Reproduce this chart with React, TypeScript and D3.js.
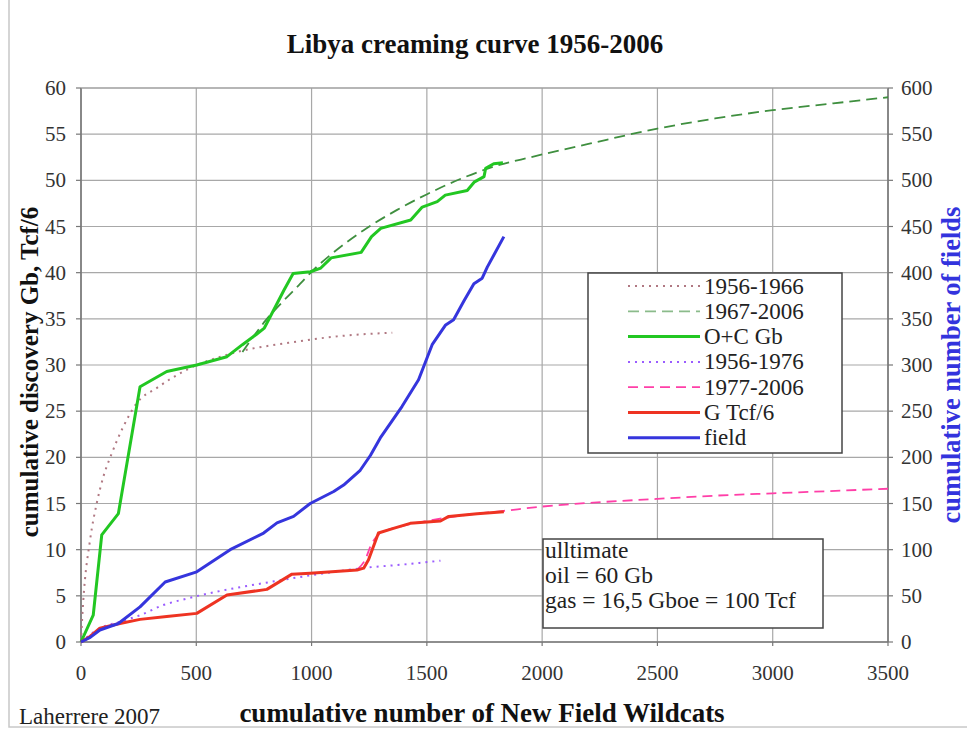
import React from "react";
import * as d3 from "d3";

// Cumulative discovery (Gb) vs cumulative new field wildcats
const oilWells = [0, 53, 90, 162, 256, 372, 502, 633, 700, 760, 795, 820, 880, 920, 995, 1040, 1085, 1215, 1260, 1300, 1430, 1480, 1545, 1580, 1675, 1705, 1748, 1755, 1790, 1830];
const oilGb = [0, 2.9, 11.6, 13.9, 27.65, 29.3, 30.0, 30.9, 32.2, 33.3, 34.0, 35.2, 38.1, 39.9, 40.1, 40.5, 41.6, 42.2, 43.9, 44.8, 45.7, 47.1, 47.7, 48.4, 48.9, 49.8, 50.4, 51.3, 51.8, 51.9];

// Gas discovery (Tcf/6)
const gasWells = [0, 39, 82, 169, 256, 372, 502, 633, 806, 915, 994, 1197, 1226, 1247, 1290, 1355, 1428, 1559, 1595, 1718, 1834];
const gasTcf6 = [0, 0.6, 1.5, 2.0, 2.45, 2.75, 3.1, 5.1, 5.7, 7.35, 7.45, 7.8, 8.0, 8.9, 11.8, 12.3, 12.85, 13.1, 13.6, 13.9, 14.1];

// Cumulative number of fields (right axis)
const fieldWells = [0, 40, 82, 162, 256, 365, 502, 647, 792, 850, 922, 994, 1096, 1139, 1211, 1255, 1298, 1392, 1464, 1523, 1580, 1616, 1660, 1704, 1740, 1762, 1834];
const fieldCount = [0, 5, 13, 20, 38, 65, 76, 100, 118, 129, 136, 150, 163, 170, 186, 202, 221, 255, 284, 322, 343, 349, 369, 388, 394, 406, 439];

// Hyperbolic creaming fits
const fit5666Wells = [0, 5, 10, 39, 68, 97, 133, 183, 241, 328, 444, 676, 900, 1111, 1350];
const fit5666Gb = [0, 2.5, 4.5, 11, 15, 17.9, 20.4, 23.3, 25.85, 27.5, 29.3, 31.4, 32.4, 33.1, 33.5];

const fit6706Wells = [700, 748, 800, 880, 951, 1000, 1081, 1226, 1371, 1501, 1660, 1805, 1950, 2210, 2500, 2750, 3000, 3250, 3500];
const fit6706Gb = [31.4, 33.1, 34.8, 37.0, 38.8, 40.1, 41.9, 44.6, 46.8, 48.5, 50.3, 51.6, 52.5, 54.0, 55.6, 56.7, 57.6, 58.3, 59.0];

const fit5676Wells = [0, 82, 169, 256, 357, 459, 589, 705, 821, 965, 1100, 1211, 1400, 1559];
const fit5676Gas = [0, 1.5, 2.2, 2.9, 4.0, 4.7, 5.45, 6.0, 6.5, 7.1, 7.6, 7.98, 8.4, 8.8];

const fit7706Wells = [1200, 1230, 1260, 1290, 1400, 1500, 1650, 1834, 1993, 2224, 2500, 2750, 3000, 3250, 3500];
const fit7706Gas = [7.9, 8.8, 10.6, 11.6, 12.6, 13.1, 13.7, 14.2, 14.65, 15.1, 15.5, 15.85, 16.1, 16.35, 16.6];

const xTicks = [0, 500, 1000, 1500, 2000, 2500, 3000, 3500];
const yLeftTicks = [0, 5, 10, 15, 20, 25, 30, 35, 40, 45, 50, 55, 60];
const yRightTicks = [0, 50, 100, 150, 200, 250, 300, 350, 400, 450, 500, 550, 600];

const legendLabels = ["1956-1966", "1967-2006", "O+C Gb", "1956-1976", "1977-2006", "G Tcf/6", "field"];
const noteLines = ["ulltimate", "oil = 60 Gb", "gas = 16,5 Gboe = 100 Tcf"];

const FONT = "'Liberation Serif', 'Times New Roman', serif";

type Style = { color: string; width: number; dash?: string };

const styles: Style[] = [
  { color: "#b07882", width: 2, dash: "2,5" },
  { color: "#3f8f3f", width: 1.8, dash: "11,6" },
  { color: "#22c722", width: 3 },
  { color: "#9a5cff", width: 2, dash: "2,5" },
  { color: "#ff3fa8", width: 1.8, dash: "10,6" },
  { color: "#ee3322", width: 3 },
  { color: "#3535dd", width: 3 },
];

export default function App() {
  const left = 81, right = 888, top = 88, bottom = 642;
  const x = d3.scaleLinear().domain([0, 3500]).range([left, right]);
  const yL = d3.scaleLinear().domain([0, 60]).range([bottom, top]);
  const yR = d3.scaleLinear().domain([0, 600]).range([bottom, top]);

  const lineL = (curve: d3.CurveFactory) =>
    d3.line<[number, number]>().x((d) => x(d[0])).y((d) => yL(d[1])).curve(curve);
  const lineR = d3.line<[number, number]>().x((d) => x(d[0])).y((d) => yR(d[1]));

  const zip = (a: number[], b: number[]) => a.map((v, i) => [v, b[i]] as [number, number]);

  const series = [
    lineL(d3.curveMonotoneX)(zip(fit5666Wells, fit5666Gb)),
    lineL(d3.curveMonotoneX)(zip(fit6706Wells, fit6706Gb)),
    lineL(d3.curveLinear)(zip(oilWells, oilGb)),
    lineL(d3.curveMonotoneX)(zip(fit5676Wells, fit5676Gas)),
    lineL(d3.curveMonotoneX)(zip(fit7706Wells, fit7706Gas)),
    lineL(d3.curveLinear)(zip(gasWells, gasTcf6)),
    lineR(zip(fieldWells, fieldCount)),
  ];
  // drawing order: fits under the observed lines
  const order = [0, 1, 3, 4, 2, 5, 6];

  const legendX = 588, legendY = 273, legendW = 254, legendH = 180;
  const rowY = (i: number) => legendY + 13 + i * 25.3;

  return (
    <svg
      width={967}
      height={733}
      style={{ position: "absolute", left: 0, top: 0, background: "#fff", fontFamily: FONT }}
    >
      <rect x={0} y={0} width={967} height={733} fill="#fff" />
      <rect x={9} y={-2} width={970} height={729} fill="none" stroke="#c8c8c8" strokeWidth={1.5} />

      <text x={475} y={53} textAnchor="middle" fontSize={27} fontWeight="bold" fill="#111">
        Libya creaming curve 1956-2006
      </text>

      {/* grid */}
      {xTicks.map((t) => (
        <line key={"gx" + t} x1={x(t)} x2={x(t)} y1={top} y2={bottom} stroke="#a8a8a8" strokeWidth={1.2} />
      ))}
      {yLeftTicks.map((t) => (
        <line key={"gy" + t} x1={left} x2={right} y1={yL(t)} y2={yL(t)} stroke="#a8a8a8" strokeWidth={1.2} />
      ))}

      {/* axes */}
      <line x1={left} x2={left} y1={top} y2={bottom} stroke="#777" strokeWidth={1.6} />
      <line x1={right} x2={right} y1={top} y2={bottom} stroke="#777" strokeWidth={1.6} />
      <line x1={left} x2={right} y1={bottom} y2={bottom} stroke="#777" strokeWidth={1.6} />
      <line x1={left} x2={right} y1={top} y2={top} stroke="#999" strokeWidth={1.2} />

      {yLeftTicks.map((t) => (
        <g key={"yl" + t}>
          <line x1={left - 5} x2={left} y1={yL(t)} y2={yL(t)} stroke="#777" strokeWidth={1.2} />
          <text x={66} y={yL(t) + 7} textAnchor="end" fontSize={21} fill="#333">{t}</text>
        </g>
      ))}
      {yRightTicks.map((t) => (
        <g key={"yr" + t}>
          <line x1={right} x2={right + 5} y1={yR(t)} y2={yR(t)} stroke="#777" strokeWidth={1.2} />
          <text x={901} y={yR(t) + 7} textAnchor="start" fontSize={21} fill="#333">{t}</text>
        </g>
      ))}
      {xTicks.map((t) => (
        <g key={"xt" + t}>
          <line x1={x(t)} x2={x(t)} y1={bottom} y2={bottom + 4} stroke="#777" strokeWidth={1.2} />
          <text x={x(t)} y={680} textAnchor="middle" fontSize={21} fill="#333">{t}</text>
        </g>
      ))}

      <text
        transform="translate(38,372) rotate(-90)"
        textAnchor="middle"
        fontSize={25}
        fontWeight="bold"
        fill="#111"
      >
        cumulative discovery Gb, Tcf/6
      </text>
      <text
        transform="translate(960,365) rotate(-90)"
        textAnchor="middle"
        fontSize={26.5}
        fontWeight="bold"
        fill="#3333dd"
      >
        cumulative number of fields
      </text>
      <text x={482} y={722} textAnchor="middle" fontSize={27} fontWeight="bold" fill="#111">
        cumulative number of New Field Wildcats
      </text>
      <text x={19} y={724} fontSize={23} fill="#222">Laherrere 2007</text>

      {/* curves */}
      {order.map((i) => (
        <path
          key={"s" + i}
          d={series[i] ?? ""}
          fill="none"
          stroke={styles[i].color}
          strokeWidth={styles[i].width}
          strokeDasharray={styles[i].dash}
          strokeLinejoin="round"
        />
      ))}

      {/* legend */}
      <rect x={legendX} y={legendY} width={legendW} height={legendH} fill="#fff" stroke="#444" strokeWidth={1.5} />
      {legendLabels.map((lab, i) => (
        <g key={"lg" + i}>
          <line
            x1={628}
            x2={700}
            y1={rowY(i)}
            y2={rowY(i)}
            stroke={styles[i].color}
            strokeWidth={styles[i].width}
            strokeDasharray={styles[i].dash}
            opacity={i === 1 ? 0.6 : 1}
          />
          <text x={704} y={rowY(i) + 7.5} fontSize={23} fill="#222">{lab}</text>
        </g>
      ))}

      {/* note box */}
      <rect x={543} y={539} width={280} height={89} fill="#fff" stroke="#444" strokeWidth={1.5} />
      {noteLines.map((s, i) => (
        <text key={"nt" + i} x={545} y={558 + i * 25} fontSize={23.5} fill="#222">{s}</text>
      ))}
    </svg>
  );
}
